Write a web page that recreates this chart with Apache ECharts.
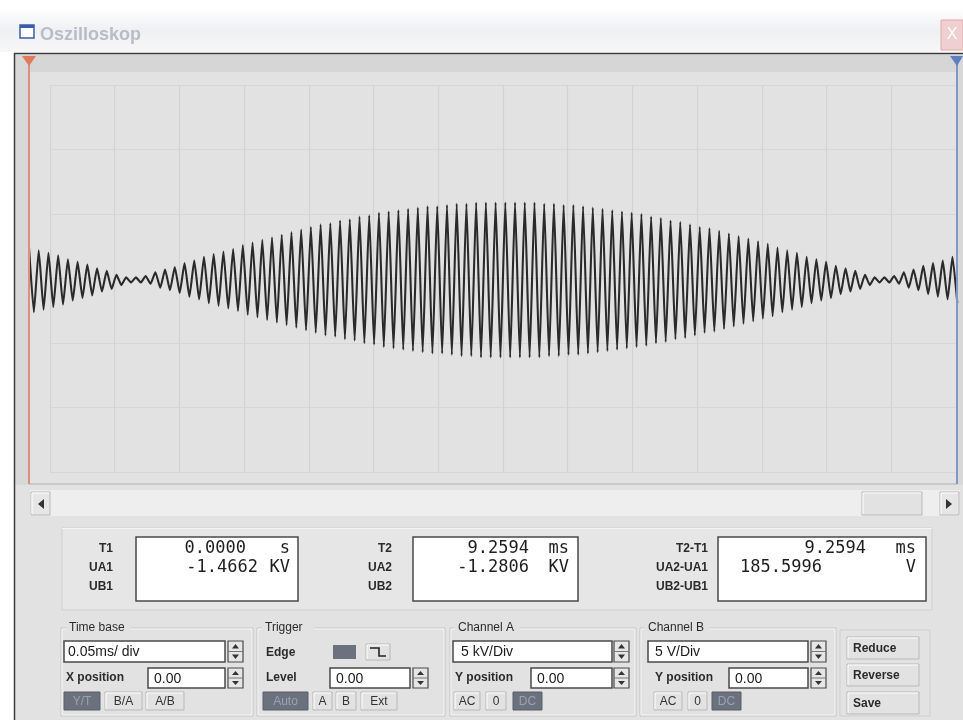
<!DOCTYPE html>
<html>
<head>
<meta charset="utf-8">
<script src="https://cdn.jsdelivr.net/npm/echarts@6/dist/echarts.min.js"></script>
<style>
html,body{margin:0;padding:0;background:#ffffff;}
#chart{width:963px;height:720px;}
</style>
</head>
<body>
<div id="chart"></div>
<script>
// ---- waveform data (peak values per carrier cycle, kV) ----
const upperPeaksKV = [
  2.5, 2.3, 2.1, 1.9, 1.6, 1.4, 1.2, 0.9, 0.7, 0.4,
  0.2, 0.2, 0.3, 0.6, 0.8, 1.0, 1.3, 1.5, 1.8, 2.0,
  2.2, 2.4, 2.7, 2.9, 3.1, 3.3, 3.5, 3.7, 3.9, 4.1,
  4.3, 4.4, 4.6, 4.7, 4.9, 5.0, 5.2, 5.3, 5.4, 5.5,
  5.6, 5.7, 5.7, 5.8, 5.9, 5.9, 6.0, 6.0, 6.0, 6.0,
  6.0, 6.0, 6.0, 5.9, 5.9, 5.8, 5.8, 5.7, 5.6, 5.5,
  5.4, 5.3, 5.2, 5.1, 4.9, 4.8, 4.6, 4.5, 4.3, 4.1,
  4.0, 3.8, 3.6, 3.4, 3.2, 3.0, 2.8, 2.5, 2.3, 2.1,
  1.8, 1.6, 1.4, 1.1, 0.9, 0.7, 0.4, 0.2, 0.2, 0.3,
  0.6, 0.8, 1.1, 1.3, 1.5, 1.8
];
const lowerPeaksKV = [
  -2.5, -2.3, -2.1, -1.9, -1.6, -1.4, -1.2, -0.9, -0.7, -0.4,
  -0.2, -0.2, -0.3, -0.6, -0.8, -1.0, -1.3, -1.5, -1.8, -2.0,
  -2.2, -2.4, -2.7, -2.9, -3.1, -3.3, -3.5, -3.7, -3.9, -4.1,
  -4.3, -4.4, -4.6, -4.7, -4.9, -5.0, -5.2, -5.3, -5.4, -5.5,
  -5.6, -5.7, -5.7, -5.8, -5.9, -5.9, -6.0, -6.0, -6.0, -6.0,
  -6.0, -6.0, -6.0, -5.9, -5.9, -5.8, -5.8, -5.7, -5.6, -5.5,
  -5.4, -5.3, -5.2, -5.1, -4.9, -4.8, -4.6, -4.5, -4.3, -4.1,
  -4.0, -3.8, -3.6, -3.4, -3.2, -3.0, -2.8, -2.5, -2.3, -2.1,
  -1.8, -1.6, -1.4, -1.1, -0.9, -0.7, -0.4, -0.2, -0.2, -0.3,
  -0.6, -0.8, -1.1, -1.3, -1.5, -1.8
];
const halfCycleUs = 3.75;        // time between successive peaks
const screenSpanUs = 716;        // visible time window
const divisionsX = 14;
const divisionsY = 6;

// ---- readout texts ----
const cursor1Labels = ['T1', 'UA1', 'UB1'];
const cursor1Values = ['0.0000', '-1.4662', ''];
const cursor1Units  = ['s', 'KV', ''];
const cursor2Labels = ['T2', 'UA2', 'UB2'];
const cursor2Values = ['9.2594', '-1.2806', ''];
const cursor2Units  = ['ms', 'KV', ''];
const diffLabels = ['T2-T1', 'UA2-UA1', 'UB2-UB1'];
const diffValues = ['9.2594', '185.5996', ''];
const diffUnits  = ['ms', 'V', ''];

const timeBaseText = '0.05ms/ div';
const chanAScale = '5 kV/Div';
const chanBScale = '5 V/Div';
const positionText = '0.00';

// build the series data
const waveData = [];
upperPeaksKV.forEach(function (u, k) {
  waveData.push([2 * k * halfCycleUs, u]);
  waveData.push([(2 * k + 1) * halfCycleUs, lowerPeaksKV[k]]);
});

// ---- graphic helpers ----
const UI_FONT = '"Liberation Sans Narrow","Liberation Sans",Arial,sans-serif';
const MONO = '"DejaVu Sans Mono","Liberation Mono",monospace';
const G = [];
function rect(x, y, w, h, fill, stroke, lw, z) {
  G.push({type: 'rect', z: z || 0, silent: true, shape: {x: x, y: y, width: w, height: h},
    style: {fill: fill, stroke: stroke || null, lineWidth: lw || 0}});
}
function line(x1, y1, x2, y2, color, w, z) {
  G.push({type: 'line', z: z || 1, silent: true, shape: {x1: x1, y1: y1, x2: x2, y2: y2},
    style: {stroke: color, lineWidth: w || 1}});
}
function text(x, y, str, font, color, align, z) {
  G.push({type: 'text', z: z || 2, silent: true, x: x, y: y,
    style: {text: str, font: font, fill: color || '#222', align: align || 'left', verticalAlign: 'middle'}});
}
function poly(points, fill, z) {
  G.push({type: 'polygon', z: z || 2, silent: true, shape: {points: points}, style: {fill: fill}});
}
function raised(x, y, w, h, fill) {
  rect(x, y, w, h, fill || '#e4e4e4', '#b8b8b8', 1, 1);
  line(x + 1, y + 1, x + w - 1, y + 1, '#ffffff', 1, 2);
  line(x + 1, y + 1, x + 1, y + h - 1, '#ffffff', 1, 2);
}
function sunken(x, y, w, h) {
  rect(x, y, w, h, '#ffffff', '#4a4a4a', 1.5, 1);
}
function spinner(x, y, h) {
  rect(x, y, 15, h, '#e6e6e6', '#4a4a4a', 1.2, 1);
  line(x, y + h / 2, x + 15, y + h / 2, '#777', 1, 2);
  poly([[x + 4, y + h / 2 - 3], [x + 11, y + h / 2 - 3], [x + 7.5, y + 3]], '#333', 3);
  poly([[x + 4, y + h / 2 + 3], [x + 11, y + h / 2 + 3], [x + 7.5, y + h - 3]], '#333', 3);
}
function button(x, y, w, h, label, dark) {
  if (dark) {
    rect(x, y, w, h, '#6c717e', '#5a5e68', 1, 1);
    text(x + w / 2, y + h / 2 + 1, label, '12px ' + UI_FONT, '#9aa3b3', 'center', 3);
  } else {
    raised(x, y, w, h, '#e2e2e2');
    text(x + w / 2, y + h / 2 + 1, label, '12px ' + UI_FONT, '#333', 'center', 3);
  }
}
function groupBox(x, y, w, h, title) {
  rect(x, y, w, h, null, '#c4c4c4', 1, 1);
  rect(x + 1, y + 1, w - 2, h - 2, null, '#f4f4f4', 1, 1);
  const tw = title.length * 6.3 + 8;
  rect(x + 5, y - 7, tw, 14, '#e2e2e2', null, 0, 2);
  text(x + 8, y, title, '12px ' + UI_FONT, '#2a2a2a', 'left', 3);
}

// ---- window chrome ----
G.push({type: 'rect', z: 0, silent: true, shape: {x: 0, y: 8, width: 963, height: 44},
  style: {fill: {type: 'linear', x: 0, y: 0, x2: 0, y2: 1, colorStops: [
    {offset: 0, color: '#ffffff'}, {offset: 0.5, color: '#eff0f3'}, {offset: 1, color: '#f7f7f8'}]}}});
rect(20, 25, 14, 13, '#ffffff', '#3a5fa8', 1.5, 1);
rect(20, 25, 14, 3, '#3a5fa8', null, 0, 2);
text(40, 35, 'Oszilloskop', 'bold 18px ' + UI_FONT, '#b8bcc6', 'left', 2);
rect(941, 20, 22, 30, '#efcfcf', '#e2aaaa', 1, 1);
text(952, 35, 'X', '16px ' + UI_FONT, '#ffffff', 'center', 3);

// window body
rect(15, 54, 948, 666, '#e2e2e2', null, 0, 0);
line(14.5, 53, 14.5, 720, '#3c3c3c', 1.5, 3);
line(14, 53.5, 963, 53.5, '#3c3c3c', 1.5, 3);
rect(15, 55, 948, 17, '#d6d6d6', null, 0, 0);
rect(15, 55, 14, 430, '#d8d8d8', null, 0, 0);
rect(957, 55, 6, 430, '#d8d8d8', null, 0, 0);
// cursors
line(29, 56, 29, 484, '#d9907e', 2, 5);
poly([[22, 56], [36, 56], [29, 66]], '#e07a5a', 6);
line(957, 56, 957, 484, '#7f97c9', 2, 5);
poly([[950, 56], [963, 56], [957, 66]], '#5e7fc0', 6);
line(29, 484, 957, 484, '#b0b0b0', 1.2, 3);

// scrollbar
rect(30, 490, 930, 26, '#eeeeee', null, 0, 0);
raised(31, 492, 19, 23, '#e6e6e6');
poly([[44, 499], [44, 509], [38, 504]], '#333', 3);
raised(862, 492, 60, 23, '#e2e2e2');
raised(940, 492, 19, 23, '#e6e6e6');
poly([[946, 499], [946, 509], [952, 504]], '#333', 3);

// readout panel
rect(62, 528, 870, 82, '#e6e6e6', '#cfcfcf', 1, 0);
line(62, 528.5, 932, 528.5, '#f6f6f6', 1, 1);
const boxes = [
  {labX: 113, bx: 136, bw: 162, labels: cursor1Labels, values: cursor1Values, units: cursor1Units, valRight: [246, 258], unitRight: 290},
  {labX: 392, bx: 413, bw: 165, labels: cursor2Labels, values: cursor2Values, units: cursor2Units, valRight: [529, 529], unitRight: 569},
  {labX: 708, bx: 718, bw: 208, labels: diffLabels, values: diffValues, units: diffUnits, valRight: [866, 822], unitRight: 916}
];
const rowY = [549, 568, 587];
boxes.forEach(function (b) {
  sunken(b.bx, 537, b.bw, 64);
  b.labels.forEach(function (l, i) {
    text(b.labX, rowY[i], l, 'bold 12px ' + UI_FONT, '#2b2b2b', 'right', 3);
    if (b.values[i]) text(b.valRight[i], rowY[i], b.values[i], '17px ' + MONO, '#1e1e1e', 'right', 3);
    if (b.units[i]) text(b.unitRight, rowY[i], b.units[i], '17px ' + MONO, '#1e1e1e', 'right', 3);
  });
});

// control groups
groupBox(61, 628, 192, 88, 'Time base');
groupBox(257, 628, 188, 88, 'Trigger');
groupBox(450, 628, 186, 88, 'Channel A');
groupBox(640, 628, 196, 88, 'Channel B');
rect(840, 630, 90, 86, null, '#cfcfcf', 1, 1);

// Time base
sunken(64, 641, 161, 21); text(68, 652, timeBaseText, '14px ' + UI_FONT, '#1a1a1a', 'left', 3);
spinner(228, 641, 21);
text(66, 678, 'X position', 'bold 12px ' + UI_FONT, '#2b2b2b', 'left', 3);
sunken(148, 668, 77, 20); text(154, 679, positionText, '14px ' + UI_FONT, '#1a1a1a', 'left', 3);
spinner(228, 668, 20);
button(64, 692, 36, 18, 'Y/T', true);
button(105, 692, 37, 18, 'B/A', false);
button(146, 692, 38, 18, 'A/B', false);

// Trigger
text(266, 653, 'Edge', 'bold 12px ' + UI_FONT, '#2b2b2b', 'left', 3);
rect(333, 645, 23, 14, '#6c717e', null, 0, 1);
raised(366, 644, 24, 16, '#e2e2e2');
G.push({type: 'polyline', z: 4, silent: true, shape: {points: [[370, 648], [379, 648], [379, 656], [386, 656]]}, style: {stroke: '#222', lineWidth: 1.6, fill: null}});
text(266, 678, 'Level', 'bold 12px ' + UI_FONT, '#2b2b2b', 'left', 3);
sunken(330, 668, 80, 20); text(336, 679, positionText, '14px ' + UI_FONT, '#1a1a1a', 'left', 3);
spinner(413, 668, 20);
button(263, 692, 45, 18, 'Auto', true);
button(313, 692, 19, 18, 'A', false);
button(336, 692, 20, 18, 'B', false);
button(361, 692, 36, 18, 'Ext', false);

// Channel A
sunken(453, 641, 159, 21); text(461, 652, chanAScale, '14px ' + UI_FONT, '#1a1a1a', 'left', 3);
spinner(614, 641, 21);
text(455, 678, 'Y position', 'bold 12px ' + UI_FONT, '#2b2b2b', 'left', 3);
sunken(531, 668, 81, 20); text(537, 679, positionText, '14px ' + UI_FONT, '#1a1a1a', 'left', 3);
spinner(614, 668, 20);
button(454, 692, 26, 18, 'AC', false);
button(486, 692, 20, 18, '0', false);
button(513, 692, 29, 18, 'DC', true);

// Channel B
sunken(648, 641, 160, 21); text(655, 652, chanBScale, '14px ' + UI_FONT, '#1a1a1a', 'left', 3);
spinner(811, 641, 21);
text(655, 678, 'Y position', 'bold 12px ' + UI_FONT, '#2b2b2b', 'left', 3);
sunken(729, 668, 79, 20); text(735, 679, positionText, '14px ' + UI_FONT, '#1a1a1a', 'left', 3);
spinner(811, 668, 20);
button(654, 692, 28, 18, 'AC', false);
button(688, 692, 19, 18, '0', false);
button(712, 692, 29, 18, 'DC', true);

// right buttons
[['Reduce', 637], ['Reverse', 664], ['Save', 692]].forEach(function (b) {
  raised(847, b[1], 72, 22, '#e2e2e2');
  text(853, b[1] + 12, b[0], 'bold 12px ' + UI_FONT, '#2b2b2b', 'left', 3);
});

// ---- chart ----
const chart = echarts.init(document.getElementById('chart'), null, {renderer: 'canvas'});
chart.setOption({
  animation: false,
  backgroundColor: '#ffffff',
  grid: [
    {left: 29, top: 72, width: 928, height: 412, show: true, backgroundColor: '#fdfdfc', borderWidth: 0},
    {left: 50, top: 85, width: 906, height: 387, show: false}
  ],
  xAxis: [
    {gridIndex: 0, type: 'value', min: 0, max: screenSpanUs, show: false},
    {gridIndex: 1, type: 'value', min: 0, max: divisionsX, interval: 1,
      axisLine: {show: false}, axisTick: {show: false}, axisLabel: {show: false},
      splitLine: {show: true, lineStyle: {color: '#d3d3d3', width: 1.2}}}
  ],
  yAxis: [
    {gridIndex: 0, type: 'value', min: -15.8, max: 16.1, show: false},
    {gridIndex: 1, type: 'value', min: 0, max: divisionsY, interval: 1,
      axisLine: {show: false}, axisTick: {show: false}, axisLabel: {show: false},
      splitLine: {show: true, lineStyle: {color: '#d6d6d6', width: 1.2}}}
  ],
  series: [{
    type: 'line',
    xAxisIndex: 0, yAxisIndex: 0,
    data: waveData,
    symbol: 'none',
    smooth: 0.15,
    z: 4,
    lineStyle: {color: '#2a2a2a', width: 2.1}
  }],
  graphic: {elements: G}
});
</script>
</body>
</html>
